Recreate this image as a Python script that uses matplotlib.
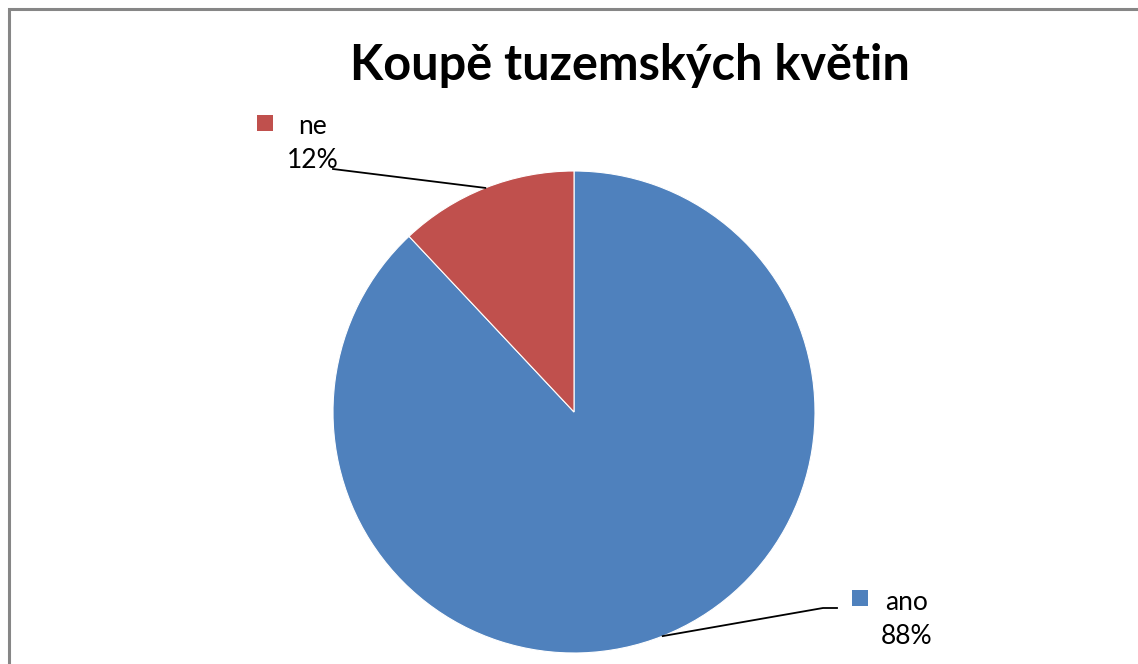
import numpy as np
import matplotlib
matplotlib.use("Agg")
import matplotlib.pyplot as plt
from matplotlib.patches import Rectangle
from matplotlib.lines import Line2D

title = "Koupě tuzemských květin"
categories = ["ano", "ne"]
values = [88, 12]
pct_labels = ["88%", "12%"]
colors = ["#4F81BD", "#C0504D"]

W, H = 1138, 664
fig = plt.figure(figsize=(W / 100, H / 100), dpi=100)
plt.rcParams['font.family'] = ['Lato', 'DejaVu Sans']

def fx(px):
    return px / W

def fy(py):
    return 1 - py / H

# border (left and top only visible)
fig.lines.append(Line2D([fx(9), fx(9), fx(W + 5)], [fy(H + 5), fy(9), fy(9)],
                        transform=fig.transFigure, color="#868686", linewidth=2.2,
                        solid_joinstyle="miter"))

cx, cy, R = 574, 412, 241
ax = fig.add_axes([fx(cx - R), fy(cy + R), 2 * R / W, 2 * R / H])
wedges, _ = ax.pie(values, colors=colors, startangle=90, counterclock=False,
                   radius=1, wedgeprops=dict(edgecolor="white", linewidth=0.8))
ax.set_xlim(-1, 1)
ax.set_ylim(-1, 1)
ax.set_aspect("auto")
ax.axis("off")

def to_data(px, py):
    return (px - cx) / R, (cy - py) / R

label_pos = {"ano": dict(path=[(823, 608), (837, 608)], sq=(852, 590), tx=907, ty1=603, ty2=637),
             "ne": dict(path=[(333, 169)], sq=(257, 115), tx=313, ty1=127, ty2=161)}

for w, cat, pl in zip(wedges, categories, pct_labels):
    mid = np.deg2rad((w.theta1 + w.theta2) / 2)
    ex, ey = np.cos(mid), np.sin(mid)
    lp = label_pos[cat]
    pts = [(ex, ey)] + [to_data(*p) for p in lp["path"]]
    xs, ys = zip(*pts)
    ax.plot(xs, ys, color="black", linewidth=1.3, clip_on=False)
    sx, sy = lp["sq"]
    fig.patches.append(Rectangle((fx(sx), fy(sy + 16)), 16 / W, 16 / H,
                                 transform=fig.transFigure,
                                 facecolor=w.get_facecolor(), edgecolor="none"))
    fig.text(fx(lp["tx"]), fy(lp["ty1"]), cat, ha="center", va="center", fontsize=19)
    fig.text(fx(lp["tx"]), fy(lp["ty2"]), pl, ha="center", va="center", fontsize=19)

fig.text(fx(630), fy(66), title, ha="center", va="center", fontsize=35, fontweight="bold")

fig.savefig("out.png", dpi=100)
